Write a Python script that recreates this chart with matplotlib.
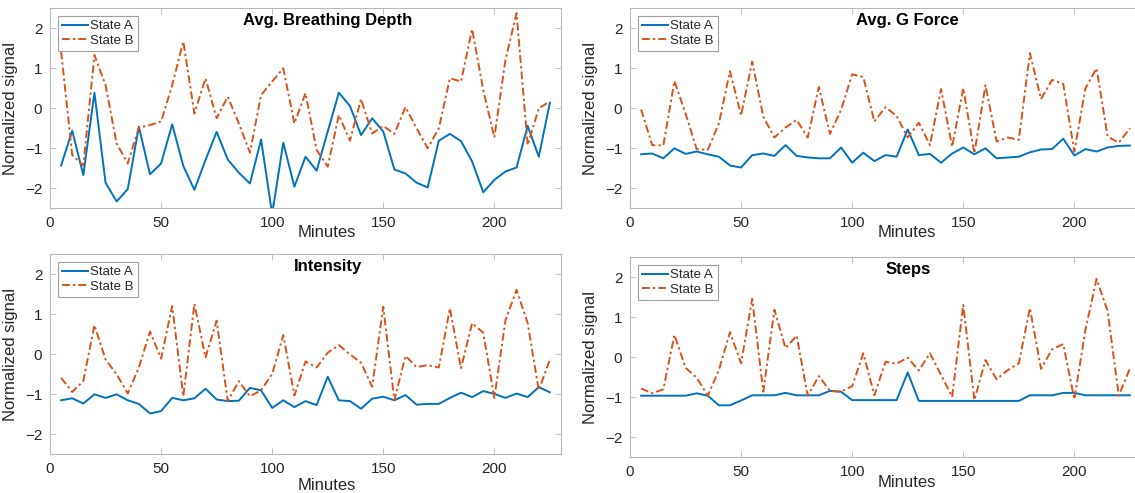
import matplotlib
matplotlib.use("Agg")
import matplotlib.pyplot as plt
import numpy as np

plt.rcParams['font.family'] = ['Liberation Sans', 'DejaVu Sans']

minutes = list(range(5, 230, 5))

titles = ["Avg. Breathing Depth", "Avg. G Force", "Intensity", "Steps"]

breath_a = [-1.43, -0.56, -1.67, 0.39, -1.86, -2.33, -2.02, -0.46, -1.65, -1.38,
            -0.40, -1.44, -2.04, -1.29, -0.59, -1.28, -1.61, -1.88, -0.78, -2.65,
            -0.86, -1.96, -1.21, -1.56, -0.58, 0.39, 0.06, -0.67, -0.25, -0.58,
            -1.53, -1.63, -1.86, -1.98, -0.81, -0.64, -0.82, -1.33, -2.10, -1.79,
            -1.58, -1.48, -0.44, -1.21, 0.14]
breath_b = [1.42, -1.17, -1.43, 1.33, 0.58, -0.88, -1.38, -0.48, -0.42, -0.33,
            0.58, 1.67, -0.13, 0.75, -0.25, 0.29, -0.38, -1.11, 0.33, 0.67,
            1.00, -0.38, 0.38, -1.04, -1.46, -0.17, -0.81, 0.23, -0.63, -0.44,
            -0.64, 0.03, -0.50, -1.00, -0.50, 0.75, 0.67, 1.98, 0.46, -0.73,
            1.21, 2.38, -0.92, 0.00, 0.17]

gforce_a = [-1.15, -1.13, -1.25, -1.00, -1.14, -1.08, -1.15, -1.21, -1.43, -1.48,
            -1.17, -1.13, -1.19, -0.92, -1.19, -1.23, -1.25, -1.25, -0.98, -1.36,
            -1.11, -1.32, -1.17, -1.21, -0.53, -1.17, -1.14, -1.36, -1.13, -0.98,
            -1.15, -1.00, -1.25, -1.23, -1.21, -1.10, -1.03, -1.02, -0.76, -1.18,
            -1.02, -1.08, -0.98, -0.94, -0.93]
gforce_b = [-0.03, -0.92, -0.93, 0.68, -0.13, -1.02, -1.04, -0.38, 0.93, -0.18,
            1.17, -0.21, -0.73, -0.48, -0.29, -0.73, 0.53, -0.64, -0.04, 0.85,
            0.78, -0.33, 0.03, -0.19, -0.73, -0.36, -0.92, 0.48, -0.96, 0.50,
            -1.13, 0.58, -0.83, -0.73, -0.79, 1.38, 0.23, 0.71, 0.61, -1.08,
            0.50, 1.00, -0.71, -0.86, -0.50]

intensity_a = [-1.15, -1.10, -1.23, -1.00, -1.09, -1.00, -1.15, -1.24, -1.48, -1.42,
               -1.09, -1.15, -1.10, -0.86, -1.13, -1.17, -1.16, -0.84, -0.90, -1.34,
               -1.15, -1.32, -1.17, -1.27, -0.56, -1.15, -1.17, -1.36, -1.11, -1.06,
               -1.15, -1.02, -1.26, -1.24, -1.24, -1.09, -0.96, -1.07, -0.92, -0.99,
               -1.09, -0.98, -1.07, -0.82, -0.95]
intensity_b = [-0.59, -0.94, -0.67, 0.73, -0.13, -0.50, -0.98, -0.33, 0.57, -0.11,
               1.21, -1.05, 1.26, -0.08, 0.84, -1.17, -0.67, -1.05, -0.90, -0.49,
               0.48, -1.03, -0.18, -0.33, 0.04, 0.23, 0.00, -0.21, -0.81, 1.19,
               -1.15, -0.04, -0.32, -0.27, -0.33, 1.15, -0.35, 0.78, 0.54, -1.09,
               0.85, 1.61, 0.78, -0.90, -0.13]

steps_a = [-0.96, -0.96, -0.96, -0.96, -0.96, -0.90, -0.96, -1.20, -1.20, -1.08,
           -0.95, -0.95, -0.95, -0.89, -0.95, -0.95, -0.95, -0.84, -0.86, -1.07,
           -1.07, -1.07, -1.07, -1.07, -0.38, -1.09, -1.09, -1.09, -1.09, -1.09,
           -1.09, -1.09, -1.09, -1.09, -1.09, -0.95, -0.95, -0.95, -0.89, -0.89,
           -0.95, -0.95, -0.95, -0.95, -0.95]
steps_b = [-0.78, -0.90, -0.80, 0.56, -0.26, -0.51, -0.96, -0.32, 0.63, -0.15,
           1.46, -0.86, 1.19, 0.23, 0.54, -0.96, -0.47, -0.84, -0.86, -0.72,
           0.10, -0.95, -0.11, -0.16, -0.01, -0.33, 0.10, -0.44, -0.99, 1.31,
           -1.07, -0.07, -0.55, -0.32, -0.15, 1.23, -0.29, 0.20, 0.33, -1.05,
           0.69, 1.96, 1.15, -0.96, -0.28]

series_a = [breath_a, gforce_a, intensity_a, steps_a]
series_b = [breath_b, gforce_b, intensity_b, steps_b]

x_ticks = [0, 50, 100, 150, 200]
y_ticks = [-2, -1, 0, 1, 2]

W, H = 1135, 493
fig = plt.figure(figsize=(W / 100, H / 100), dpi=100)

# (left px, top px) of each axes; width 511 px, height 200 px
boxes = [(50, 8.3), (630, 8.3), (50, 254.3), (630, 257.3)]
xlabel_y = [-0.085, -0.085, -0.12, -0.09]

blue = '#0072BD'
orange = '#D95319'
spine_c = '#b8b8b8'
text_c = '#262626'

for i, (lx, ty) in enumerate(boxes):
    ax = fig.add_axes([lx / W, (H - ty - 200) / H, 511 / W, 200 / H])
    ax.plot(minutes, series_a[i], color=blue, lw=1.4, label='State A')
    ax.plot(minutes, series_b[i], color=orange, lw=1.4,
            linestyle=(0, (4, 1.6, 1.2, 1.6)), label='State B')
    ax.set_xlim(0, 230)
    ax.set_ylim(-2.5, 2.5)
    ax.set_xticks(x_ticks)
    ax.set_yticks(y_ticks)
    ax.tick_params(direction='in', length=4, width=0.6, color=spine_c,
                   labelsize=11, labelcolor=text_c, top=True, right=True,
                   pad=5.5)
    for s in ax.spines.values():
        s.set_color(spine_c)
        s.set_linewidth(0.8)
    ax.set_ylabel('Normalized signal', fontsize=12, color=text_c)
    ax.yaxis.set_label_coords(-0.063, 0.5)
    ax.set_xlabel('Minutes', fontsize=12, color=text_c, va='top')
    ax.xaxis.set_label_coords(0.542, xlabel_y[i])
    ax.text(125, 2.19, titles[i], ha='center', va='center', fontsize=12,
            fontweight='bold', color='black')
    leg = ax.legend(loc='upper left', fontsize=9.5, frameon=True, fancybox=False,
                    framealpha=1, edgecolor='#a0a0a0', borderaxespad=0.6,
                    handlelength=2.0, handletextpad=0.15, borderpad=0.3,
                    labelspacing=0.15)
    leg.get_frame().set_linewidth(0.8)
    for t in leg.get_texts():
        t.set_color(text_c)

fig.savefig('out.png', dpi=100)
